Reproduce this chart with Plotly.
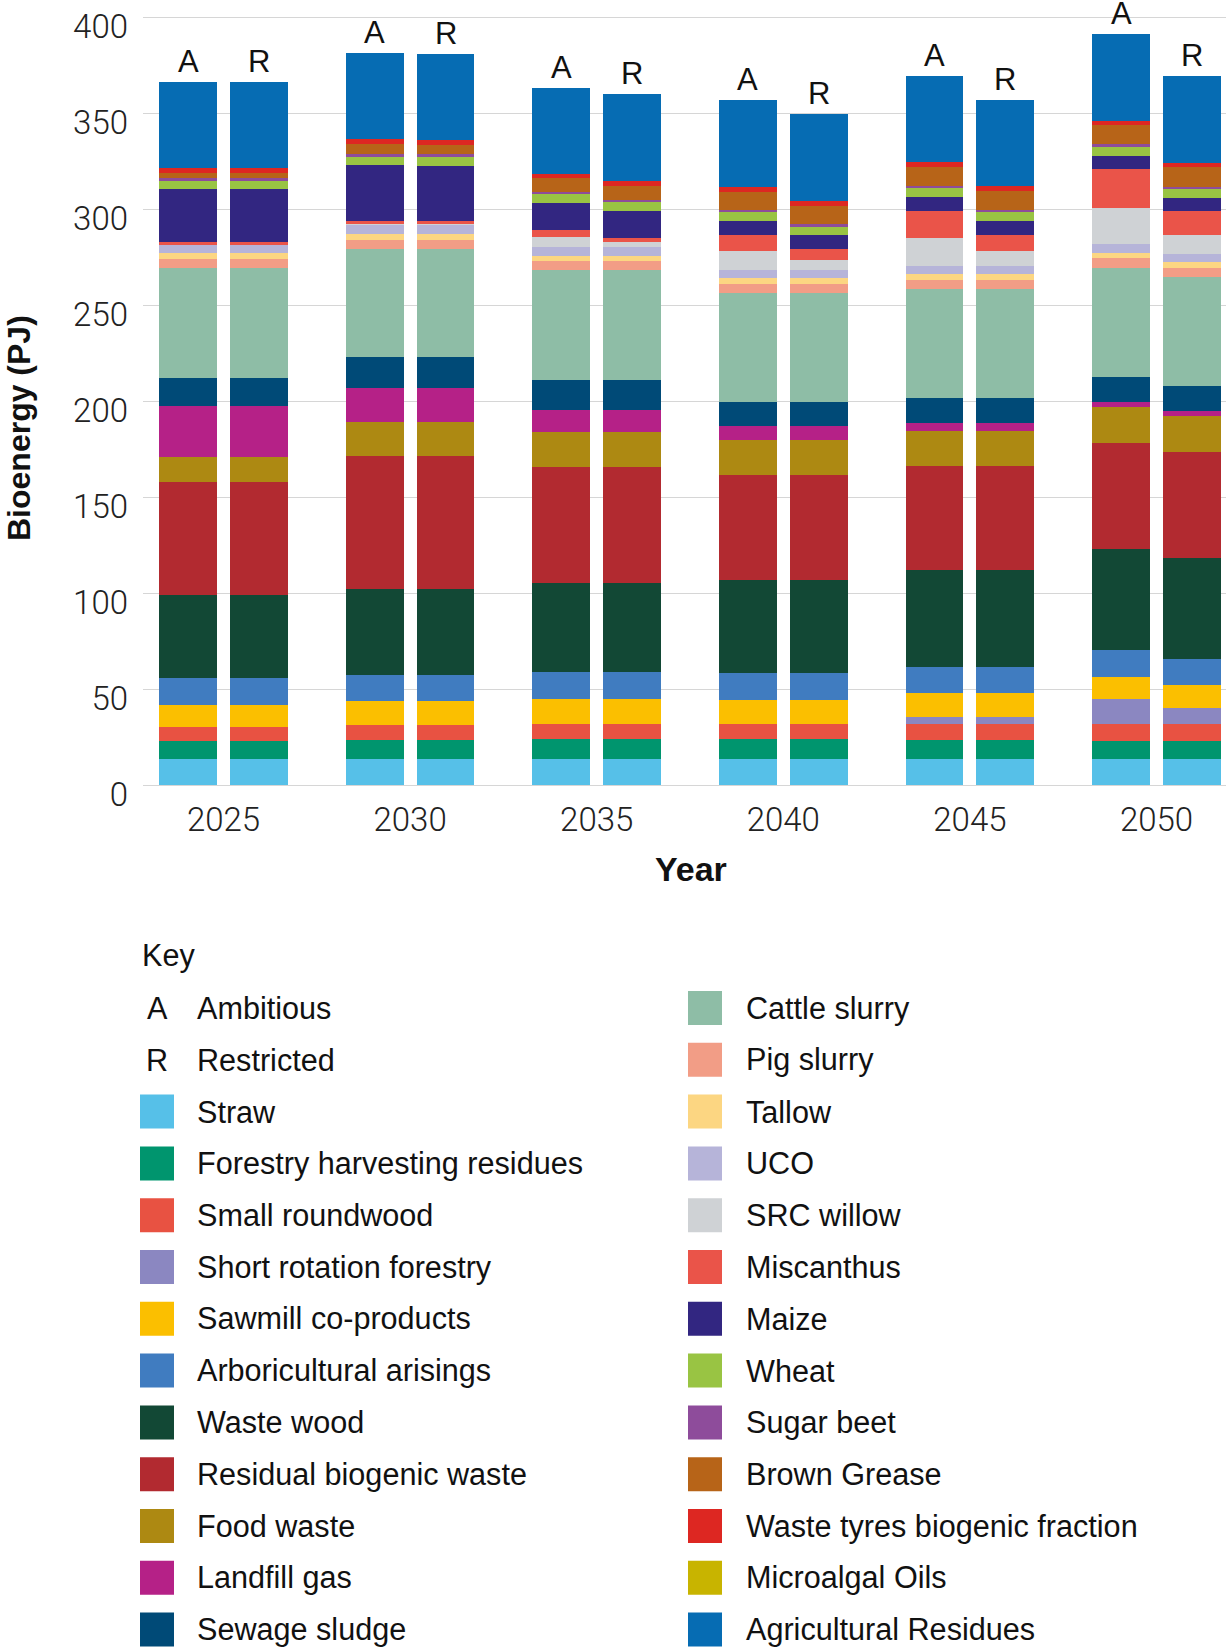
import plotly.graph_objects as go

# ---------------- data ----------------
YEARS = [2025, 2030, 2035, 2040, 2045, 2050]
SCENARIOS = ["A", "R"]
SCENARIO_NAMES = ["Ambitious", "Restricted"]
Y_TICKS = [0, 50, 100, 150, 200, 250, 300, 350, 400]

# each list: [2025A, 2025R, 2030A, 2030R, 2035A, 2035R, 2040A, 2040R, 2045A, 2045R, 2050A, 2050R]  (PJ)
straw = [13.7, 13.7, 13.7, 13.7, 13.7, 13.7, 13.7, 13.7, 13.7, 13.7, 13.7, 13.7]
forestry_residues = [9.4, 9.4, 9.9, 9.9, 10.4, 10.4, 10.4, 10.4, 9.9, 9.9, 9.4, 9.4]
small_roundwood = [7.3, 7.3, 7.8, 7.8, 7.8, 7.8, 7.8, 7.8, 8.3, 8.3, 8.8, 8.8]
short_rotation_forestry = [0, 0, 0, 0, 0, 0, 0, 0, 3.7, 3.7, 13.0, 8.4]
sawmill_coproducts = [11.4, 11.4, 12.5, 12.5, 13.0, 13.0, 12.5, 12.5, 12.5, 12.5, 11.5, 11.9]
arboricultural = [14.1, 14.1, 13.5, 13.5, 14.1, 14.1, 14.1, 14.1, 13.5, 13.5, 14.1, 13.6]
waste_wood = [42.9, 42.9, 44.8, 44.8, 46.4, 46.4, 48.5, 48.5, 50.5, 50.5, 52.6, 52.6]
residual_waste = [59.2, 59.2, 69.3, 69.3, 60.4, 60.4, 54.6, 54.6, 54.2, 54.2, 55.2, 55.2]
food_waste = [13.0, 13.0, 17.7, 17.7, 18.2, 18.2, 18.2, 18.2, 18.2, 18.2, 18.7, 18.7]
landfill_gas = [26.5, 26.5, 17.8, 17.8, 11.5, 11.5, 7.3, 7.3, 4.2, 4.2, 2.6, 2.6]
sewage_sludge = [14.6, 14.6, 16.1, 16.1, 15.6, 15.6, 12.5, 12.5, 13.0, 13.0, 13.0, 13.1]
cattle_slurry = [57.3, 57.3, 56.2, 56.2, 57.3, 57.3, 56.8, 56.8, 56.8, 56.8, 56.8, 56.7]
pig_slurry = [4.7, 4.7, 4.7, 4.7, 4.7, 4.7, 4.7, 4.7, 4.7, 4.7, 5.2, 4.7]
tallow = [3.1, 3.1, 3.1, 3.1, 2.6, 2.6, 3.1, 3.1, 3.1, 3.1, 2.6, 3.1]
uco = [4.2, 4.2, 4.7, 4.7, 4.7, 4.7, 4.2, 4.2, 4.2, 4.2, 4.7, 4.2]
src_willow = [0, 0, 0.5, 0.5, 5.2, 2.5, 9.9, 5.2, 14.5, 7.8, 18.8, 9.9]
miscanthus = [1.5, 1.5, 1.6, 1.6, 3.6, 2.1, 8.3, 5.7, 14.1, 8.3, 20.3, 12.5]
maize = [27.6, 27.6, 29.2, 28.7, 14.1, 14.1, 7.3, 7.3, 7.3, 7.3, 6.8, 6.8]
wheat = [4.2, 4.2, 4.1, 4.6, 4.7, 4.7, 4.7, 4.2, 4.7, 4.7, 4.7, 4.6]
sugar_beet = [1.6, 1.6, 1.6, 1.6, 1.0, 1.0, 1.0, 1.5, 1.0, 1.0, 1.5, 1.1]
brown_grease = [2.6, 2.6, 5.2, 4.7, 7.3, 7.3, 9.4, 9.4, 9.9, 9.9, 9.9, 10.4]
waste_tyres = [2.6, 2.6, 2.6, 2.6, 2.1, 2.6, 2.6, 2.6, 2.6, 2.6, 2.1, 2.1]
microalgal_oils = [0, 0, 0, 0, 0, 0, 0, 0, 0, 0, 0, 0]
agricultural_residues = [44.8, 44.8, 44.8, 44.8, 44.8, 45.4, 45.3, 45.3, 44.8, 44.8, 45.3, 45.3]

SOURCE_NAMES = [
    "Straw", "Forestry harvesting residues", "Small roundwood", "Short rotation forestry",
    "Sawmill co-products", "Arboricultural arisings", "Waste wood", "Residual biogenic waste",
    "Food waste", "Landfill gas", "Sewage sludge", "Cattle slurry", "Pig slurry", "Tallow",
    "UCO", "SRC willow", "Miscanthus", "Maize", "Wheat", "Sugar beet", "Brown Grease",
    "Waste tyres biogenic fraction", "Microalgal Oils", "Agricultural Residues",
]
SOURCE_VALUES = [
    straw, forestry_residues, small_roundwood, short_rotation_forestry, sawmill_coproducts,
    arboricultural, waste_wood, residual_waste, food_waste, landfill_gas, sewage_sludge,
    cattle_slurry, pig_slurry, tallow, uco, src_willow, miscanthus, maize, wheat, sugar_beet,
    brown_grease, waste_tyres, microalgal_oils, agricultural_residues,
]
SOURCE_COLORS = [
    "#56C0E8", "#00956E", "#E85242", "#8B87C1", "#FBBF00", "#407CC0", "#124835", "#B22A30",
    "#AD8912", "#B52187", "#004A77", "#8EBDA6", "#F29D86", "#FCD682", "#B6B4D9", "#CFD2D5",
    "#EA5449", "#322681", "#99C443", "#8E4C9B", "#B76418", "#DD2722", "#C8B400", "#066CB3",
]

# ---------------- layout constants ----------------
W, H = 1228, 1652
PL, PR, PT, PB = 143, 1226, 15, 785          # plot area in pixels
Y_RANGE = [0, 401.04]
BAR_OFFSET = 0.95                            # years from group centre
BAR_WIDTH = 1.55
X_RANGE = [2022.843, 2051.862]

TICK_FONT = dict(family="Roboto, Liberation Sans, sans-serif", size=33, color="#222222", weight=300)
TEXT_FONT = "Liberation Sans, Arial, sans-serif"

def px_x(px):
    return (px - PL) / (PR - PL)

def px_y(py):
    return (PB - py) / (PB - PT)

x_pos = [yr + (-BAR_OFFSET if s == "A" else BAR_OFFSET) for yr in YEARS for s in SCENARIOS]
bar_labels = [s for yr in YEARS for s in SCENARIOS]

fig = go.Figure()
for name, vals, col in zip(SOURCE_NAMES, SOURCE_VALUES, SOURCE_COLORS):
    fig.add_trace(go.Bar(
        x=x_pos, y=vals, name=name, width=BAR_WIDTH,
        marker=dict(color=col, line=dict(width=0)),
        showlegend=False,
    ))

totals = [sum(v[i] for v in SOURCE_VALUES) for i in range(len(x_pos))]
annotations = []
for xp, tot, lab in zip(x_pos, totals, bar_labels):
    annotations.append(dict(
        x=xp, y=tot, xref="x", yref="y", text=lab, showarrow=False,
        yanchor="bottom", xanchor="center", yshift=1,
        font=dict(family=TEXT_FONT, size=31, color="#111111"),
    ))

# axis titles
annotations.append(dict(
    x=px_x(19), y=px_y(428), xref="paper", yref="paper", text="<b>Bioenergy (PJ)</b>",
    textangle=-90, showarrow=False, xanchor="center", yanchor="middle",
    font=dict(family=TEXT_FONT, size=32, color="#111111"),
))
annotations.append(dict(
    x=px_x(691), y=px_y(869), xref="paper", yref="paper", text="<b>Year</b>",
    showarrow=False, xanchor="center", yanchor="middle",
    font=dict(family=TEXT_FONT, size=34, color="#111111"),
))

# ---------------- key (manual legend) ----------------
shapes = []
LEG_FONT = dict(family=TEXT_FONT, size=30.6, color="#111111")
ROW0, ROW_STEP = 1008, 51.8
LEFT_SW, RIGHT_SW, SW = 140, 688, 34
LEFT_TX, RIGHT_TX = 195, 744

annotations.append(dict(
    x=px_x(LEFT_SW), y=px_y(955), xref="paper", yref="paper", text="Key",
    showarrow=False, xanchor="left", yanchor="middle", font=LEG_FONT,
))

left_items = [("letter", s, n) for s, n in zip(SCENARIOS, SCENARIO_NAMES)] + \
             [("swatch", c, n) for n, c in zip(SOURCE_NAMES[:11], SOURCE_COLORS[:11])]
right_items = [("swatch", c, n) for n, c in zip(SOURCE_NAMES[11:], SOURCE_COLORS[11:])]

def add_item(item, row, sw_x, tx_x):
    kind, val, label = item
    cy = ROW0 + ROW_STEP * row
    if kind == "swatch":
        shapes.append(dict(
            type="rect", xref="paper", yref="paper",
            x0=px_x(sw_x), x1=px_x(sw_x + SW), y0=px_y(cy + SW / 2), y1=px_y(cy - SW / 2),
            fillcolor=val, line=dict(width=0),
        ))
    else:
        annotations.append(dict(
            x=px_x(sw_x + SW / 2), y=px_y(cy), xref="paper", yref="paper", text=val,
            showarrow=False, xanchor="center", yanchor="middle", font=LEG_FONT,
        ))
    annotations.append(dict(
        x=px_x(tx_x), y=px_y(cy), xref="paper", yref="paper", text=label,
        showarrow=False, xanchor="left", yanchor="middle", font=LEG_FONT,
    ))

for i, it in enumerate(left_items):
    add_item(it, i, LEFT_SW, LEFT_TX)
for i, it in enumerate(right_items):
    add_item(it, i, RIGHT_SW, RIGHT_TX)

fig.update_layout(
    width=W, height=H,
    margin=dict(l=PL, r=W - PR, t=PT, b=H - PB, autoexpand=False),
    barmode="stack", bargap=0,
    plot_bgcolor="white", paper_bgcolor="white",
    showlegend=False,
    annotations=annotations, shapes=shapes,
    xaxis=dict(
        range=X_RANGE, tickmode="array", tickvals=YEARS, ticktext=[str(y) for y in YEARS],
        showgrid=False, zeroline=False, showline=False, ticks="",
        tickfont=TICK_FONT, ticklabelstandoff=12, fixedrange=True,
    ),
    yaxis=dict(
        range=Y_RANGE, tickmode="array", tickvals=Y_TICKS,
        showgrid=True, gridcolor="#D6D6D6", gridwidth=1,
        zeroline=True, zerolinecolor="#D6D6D6", zerolinewidth=1,
        showline=False, ticks="", tickfont=TICK_FONT,
        ticklabelstandoff=14, ticklabelshift=9, fixedrange=True,
    ),
)

fig.write_html(
    "out.html",
    config={"displayModeBar": False, "staticPlot": False},
    post_script="document.body.style.margin='0px'; document.body.style.padding='0px';",
)
